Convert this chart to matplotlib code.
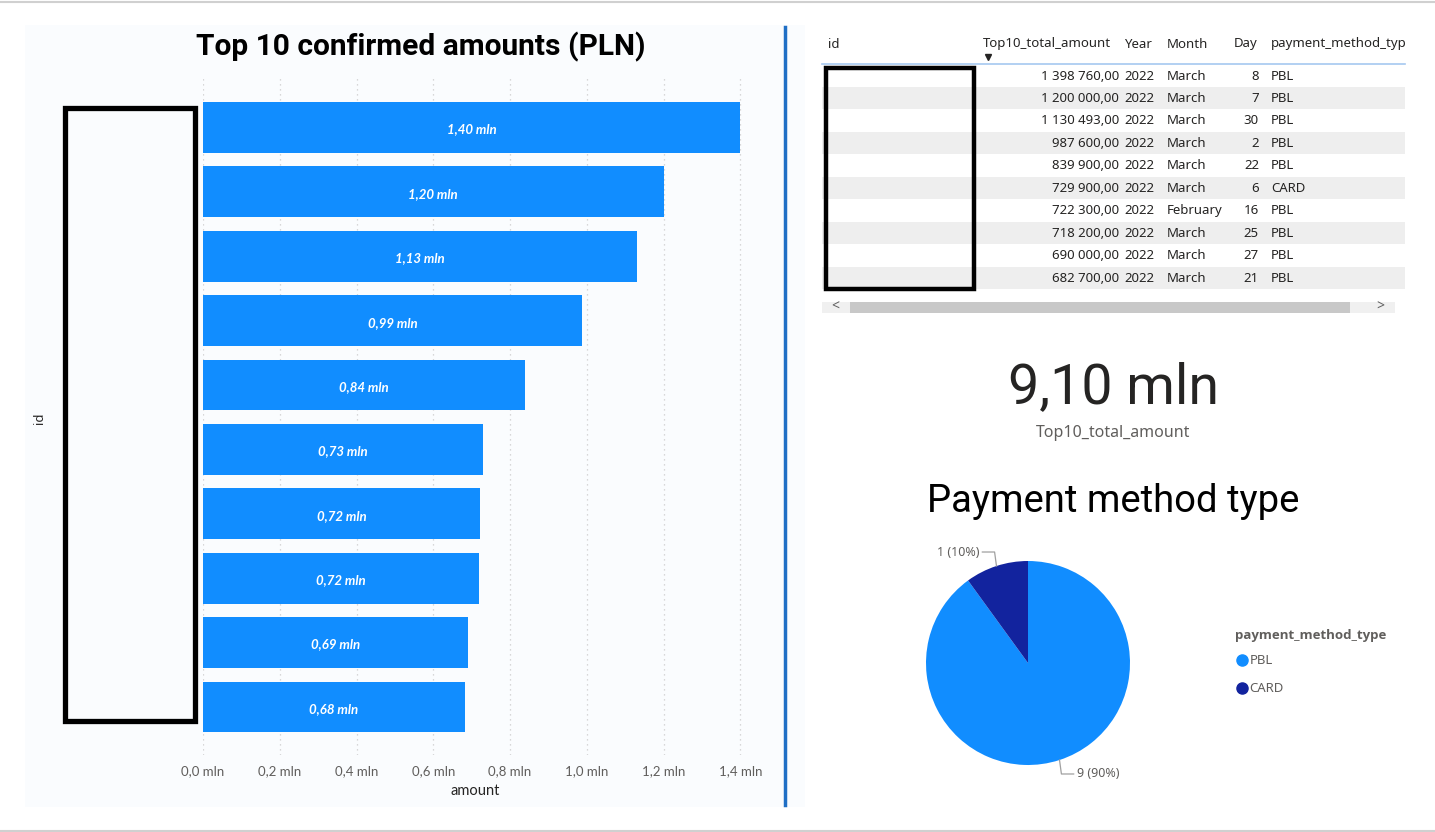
import math
import matplotlib.pyplot as plt
from matplotlib.patches import Rectangle
from matplotlib.lines import Line2D

W, H = 1435, 832

# bar chart data (millions PLN)
amounts = [1.39876, 1.2, 1.130493, 0.9876, 0.8399, 0.7299, 0.7223, 0.7182, 0.69, 0.6827]
bar_labels = ['1,40 mln', '1,20 mln', '1,13 mln', '0,99 mln', '0,84 mln',
              '0,73 mln', '0,72 mln', '0,72 mln', '0,69 mln', '0,68 mln']
x_ticks = [0, 0.2, 0.4, 0.6, 0.8, 1.0, 1.2, 1.4]
x_tick_labels = ['0,0 mln', '0,2 mln', '0,4 mln', '0,6 mln', '0,8 mln', '1,0 mln', '1,2 mln', '1,4 mln']

# table data
tbl_amount = ['1 398 760,00', '1 200 000,00', '1 130 493,00', '987 600,00', '839 900,00',
              '729 900,00', '722 300,00', '718 200,00', '690 000,00', '682 700,00']
tbl_year = ['2022'] * 10
tbl_month = ['March', 'March', 'March', 'March', 'March', 'March', 'February', 'March', 'March', 'March']
tbl_day = ['8', '7', '30', '2', '22', '6', '16', '25', '27', '21']
tbl_method = ['PBL', 'PBL', 'PBL', 'PBL', 'PBL', 'CARD', 'PBL', 'PBL', 'PBL', 'PBL']

# pie data
pie_labels = ['PBL', 'CARD']
pie_counts = [9, 1]

kpi_value = '9,10 mln'

BLUE = '#118DFF'
DARK = '#12239E'
GRAY = '#605E5C'
INK = '#252423'

plt.rcParams['font.family'] = ['Noto Sans', 'DejaVu Sans']

fig = plt.figure(figsize=(W / 100, H / 100), dpi=100)
fig.patch.set_facecolor('white')


def px_axes(left, top, width, height, **kw):
    return fig.add_axes([left / W, 1 - (top + height) / H, width / W, height / H], **kw)


# background layer
bg = px_axes(0, 0, W, H, zorder=0)
bg.set_xlim(0, W)
bg.set_ylim(H, 0)
bg.axis('off')
bg.add_patch(Rectangle((25, 25), 780, 782, color='#FAFCFE', lw=0))
bg.plot([0, W], [1.5, 1.5], color='#D0D0D0', lw=1.5)
bg.plot([0, W], [830.5, 830.5], color='#D0D0D0', lw=1.5)
bg.plot([785, 785], [27, 805], color='#1F6FC5', lw=2.5)

# ---- bar chart ----
ax = px_axes(203, 75, 545, 680, zorder=1)
ax.set_facecolor('none')
ypos = list(range(len(amounts)))
ax.barh(ypos, amounts, height=0.79, color=BLUE)
for y, v, lab in zip(ypos, amounts, bar_labels):
    ax.text(v / 2, y + 0.03, lab, ha='center', va='center', color='white',
            fontsize=9.5, fontweight='bold', fontstyle='italic', family='Lato')
ax.set_xlim(0, 1.42)
ax.set_ylim(9.745, -0.815)
ax.set_xticks(x_ticks)
ax.set_xticklabels(x_tick_labels, color=GRAY, fontsize=9.5, family='Lato')
ax.set_yticks([])
ax.tick_params(axis='x', length=0, pad=7)
ax.grid(axis='x', color='#CCCCCC', linestyle=(0, (1, 3)), lw=0.9)
ax.set_axisbelow(True)
for s in ax.spines.values():
    s.set_visible(False)
ax.set_xlabel('amount', fontsize=10.5, color=INK, labelpad=5, family='Lato')

# ---- pie chart ----
pax = px_axes(926, 561, 204, 204, zorder=1)
wedges, _ = pax.pie(pie_counts, colors=[BLUE, DARK], startangle=90, counterclock=False,
                    wedgeprops=dict(lw=0))
pax.set_xlim(-1, 1)
pax.set_ylim(-1, 1)
pax.set_aspect('equal')
total = sum(pie_counts)
for w, c in zip(wedges, pie_counts):
    mid = math.radians((w.theta1 + w.theta2) / 2)
    x0, y0 = math.cos(mid), math.sin(mid)
    x1, y1 = 1.06 * x0, 1.06 * y0 + (0.08 if y0 > 0 else -0.08)
    side = -1 if x0 < 0 else 1
    x2 = x1 + side * 0.12
    pax.plot([x0, x1, x2], [y0, y1, y1], color='#A0A0A0', lw=0.9, clip_on=False)
    pax.text(x2 + side * 0.03, y1, f'{c} ({c / total:.0%})', ha='left' if side > 0 else 'right',
             va='center', fontsize=9, color=GRAY, clip_on=False)

handles = [Line2D([], [], marker='o', ls='', markersize=8, color=col) for col in [BLUE, DARK]]
leg = fig.legend(handles, pie_labels, loc='upper left',
                 bbox_to_anchor=(1226 / W, 1 - 645 / H), frameon=False, fontsize=9.5,
                 handletextpad=0.1, labelspacing=1.15, handlelength=1.0,
                 labelcolor=GRAY, borderpad=0.2)

# ---- overlay: texts, table, boxes ----
ov = px_axes(0, 0, W, H, zorder=3)
ov.set_facecolor('none')
ov.set_xlim(0, W)
ov.set_ylim(H, 0)
ov.axis('off')

ov.text(1235, 636, 'payment_method_type', ha='left', va='center', fontsize=9.5,
        fontweight='bold', family='Open Sans', color=GRAY)

ov.text(421, 47, 'Top 10 confirmed amounts (PLN)', ha='center', va='center',
        fontsize=21.5, fontweight='bold', family='Roboto', color='black')
ov.text(40, 418, 'id', rotation=90, ha='center', va='center', fontsize=9.5, color=INK)
ov.add_patch(Rectangle((65, 108), 130, 613, fill=False, ec='black', lw=3.8))

# table
row0, pitch = 76, 22.45
for i in range(10):
    yc = row0 + i * pitch
    if i % 2 == 1:
        ov.add_patch(Rectangle((822, yc - 11), 583, 22, color='#EEEEEE', lw=0))
    ov.text(1119, yc, tbl_amount[i], ha='right', va='center', fontsize=9.5, color=INK)
    ov.text(1124, yc, tbl_year[i], ha='left', va='center', fontsize=9.5, color=INK)
    ov.text(1167, yc, tbl_month[i], ha='left', va='center', fontsize=9.5, color=INK)
    ov.text(1259, yc, tbl_day[i], ha='right', va='center', fontsize=9.5, color=INK)
    ov.text(1271, yc, tbl_method[i], ha='left', va='center', fontsize=9.5, color=INK)
headers = [(828, 'id'), (983, 'Top10_total_amount'), (1124, 'Year'), (1167, 'Month'),
           (1234, 'Day'), (1271, 'payment_method_type')]
for hx, ht in headers:
    t = ov.text(hx, 44, ht, ha='left', va='center', fontsize=9.5, color=INK)
    t.set_clip_path(Rectangle((0, 0), 1405, H, transform=ov.transData))
    t.set_clip_on(True)
ov.plot([988], [57], marker='v', color=INK, markersize=5)
ov.plot([822, 1405], [64, 64], color='#A6C8F0', lw=1.2)
ov.add_patch(Rectangle((826, 68), 148, 221, fill=False, ec='black', lw=3.2))
# scrollbar
ov.add_patch(Rectangle((822, 302), 573, 11, color='#F0F0F0', lw=0))
ov.add_patch(Rectangle((850, 302), 500, 11, color='#C8C8C8', lw=0))
ov.text(835, 307, '<', ha='center', va='center', fontsize=10, color='#606060')
ov.text(1380, 307, '>', ha='center', va='center', fontsize=10, color='#606060')

# KPI
ov.text(1113, 388, kpi_value, ha='center', va='center', fontsize=40, family='Roboto', color=INK)
ov.text(1113, 433, 'Top10_total_amount', ha='center', va='center', fontsize=11.5, color=GRAY)

ov.text(1113, 501, 'Payment method type', ha='center', va='center', fontsize=27.5,
        family='Roboto', color='black')

fig.savefig('out.png', dpi=100)
